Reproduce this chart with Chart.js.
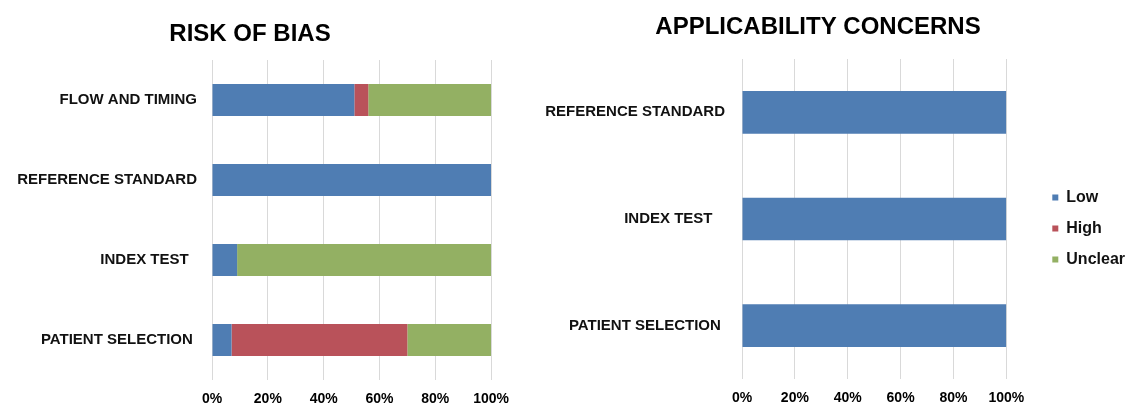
<!DOCTYPE html>
<html>
<head>
<meta charset="utf-8">
<script src="https://cdn.jsdelivr.net/npm/chart.js@4/dist/chart.umd.min.js"></script>
<style>
body{margin:0;background:#fff;width:1128px;height:405px;overflow:hidden;position:relative;}
canvas{position:absolute;top:0;}
#biasChart{left:0;}
#applyChart{left:510px;}
</style>
</head>
<body>
<canvas id="biasChart" width="520" height="405"></canvas>
<canvas id="applyChart" width="618" height="405"></canvas>
<script>

// categories (trailing spaces keep the label ends where the original has them)
const biasLabels=["FLOW AND TIMING","REFERENCE STANDARD","INDEX TEST  ","PATIENT SELECTION "];
const applyLabels=["REFERENCE STANDARD","INDEX TEST   ","PATIENT SELECTION "];

// percent of studies
const biasLow=[51,100,9,7];
const biasHigh=[5,0,0,63];
const biasUnclear=[44,0,91,30];

const applyLow=[100,100,100];
const applyHigh=[0,0,0];
const applyUnclear=[0,0,0];

const xTicks=[0,20,40,60,80,100];

const colors={low:"#4f7db3",high:"#b9525a",unclear:"#93b063"};

Chart.defaults.font.family="'Liberation Sans', Arial, sans-serif";
Chart.defaults.color="#111";

// shifts title / legend after layout
const nudge={
id:"nudge",
afterLayout(chart,args,opts){
if(opts.titleX&&chart.titleBlock){
chart.titleBlock.left+=opts.titleX;
chart.titleBlock.right+=opts.titleX;
}
if(chart.legend&&chart.legend.options.display){
chart.legend.left+=opts.legendX||0;
chart.legend.right+=opts.legendX||0;
chart.legend.top+=opts.legendY||0;
chart.legend.bottom+=opts.legendY||0;
}
}
};

function makeDatasets(low,high,unclear){
return [
{label:"Low",data:low,backgroundColor:colors.low},
{label:"High",data:high,backgroundColor:colors.high},
{label:"Unclear",data:unclear,backgroundColor:colors.unclear}
];
}

function makeOptions(o){
return {
indexAxis:"y",
responsive:false,
animation:false,
layout:{padding:{left:0,right:o.padRight,top:0,bottom:0}},
datasets:{bar:{barPercentage:0.4,categoryPercentage:1}},
scales:{
x:{
stacked:true,
min:0,
max:100,
afterBuildTicks(scale){scale.ticks=xTicks.map(v=>({value:v}));},
afterFit(scale){scale.height=25;},
grid:{color:"#d9d9d9",lineWidth:1,drawTicks:false},
border:{display:false},
ticks:{
padding:11,
color:"#000",
font:{size:14,weight:"bold"},
callback:v=>v+"%"
}
},
y:{
stacked:true,
afterFit(scale){scale.width=o.yWidth;},
grid:{display:false,drawTicks:false},
border:{display:false},
ticks:{
padding:o.yPad,
color:"#111",
font:{size:15,weight:"bold"}
}
}
},
plugins:{
title:{
display:true,
text:o.title,
color:"#000",
font:{size:24,weight:"bold"},
padding:{top:o.titleTop,bottom:o.titleBottom}
},
legend:o.legend,
tooltip:{enabled:false},
nudge:{titleX:o.titleX,legendX:o.legendX||0,legendY:o.legendY||0}
}
};
}

new Chart(document.getElementById("biasChart"),{
type:"bar",
data:{labels:biasLabels,datasets:makeDatasets(biasLow,biasHigh,biasUnclear)},
options:makeOptions({
padRight:28,
yWidth:212,
yPad:15,
title:"RISK OF BIAS",
titleTop:20,
titleBottom:11.2,
titleX:4,
legend:{display:false}
}),
plugins:[nudge]
});

new Chart(document.getElementById("applyChart"),{
type:"bar",
data:{labels:applyLabels,datasets:makeDatasets(applyLow,applyHigh,applyUnclear)},
options:makeOptions({
padRight:24,
yWidth:232,
yPad:17,
title:"APPLICABILITY CONCERNS",
titleTop:13,
titleBottom:17.2,
titleX:11,
legendX:31,
legendY:26,
legend:{
display:true,
position:"right",
align:"center",
labels:{
boxWidth:6,
boxHeight:6,
padding:15,
color:"#111",
font:{size:16,weight:"bold"}
}
}
}),
plugins:[nudge]
});

</script>
</body>
</html>
